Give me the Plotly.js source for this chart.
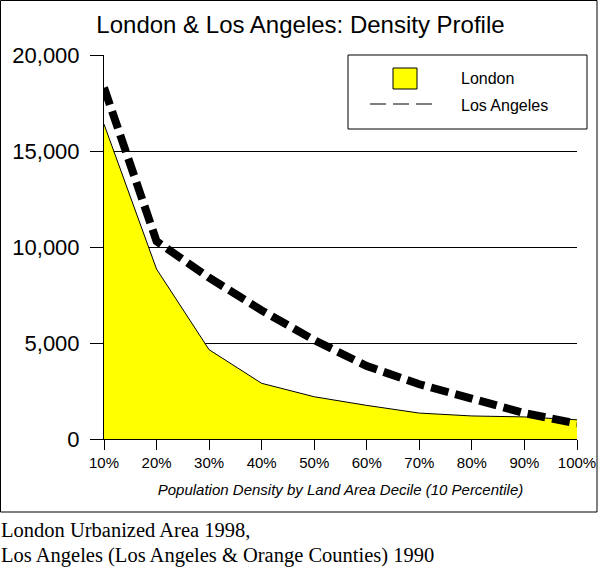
<!DOCTYPE html>
<html>
<head>
<meta charset="utf-8">
<script src="https://cdn.plot.ly/plotly-3.0.1.min.js"></script>
<style>html,body{margin:0;padding:0;background:#fff;}#chart{width:601px;height:568px;}</style>
</head>
<body>
<div id="chart"></div>
<script>
// Population density deciles (10% .. 100% of land area)
var deciles = [10, 20, 30, 40, 50, 60, 70, 80, 90, 100];
var decileLabels = ['10%', '20%', '30%', '40%', '50%', '60%', '70%', '80%', '90%', '100%'];
var londonDensity = [16400, 8850, 4650, 2900, 2200, 1750, 1350, 1200, 1150, 1000];
var laDensity = [18300, 10300, 8400, 6700, 5150, 3800, 2850, 2050, 1350, 800];
var seriesNames = ['London', 'Los Angeles'];
var chartTitle = 'London & Los Angeles: Density Profile';
var xAxisTitle = 'Population Density by Land Area Decile (10 Percentile)';
var captionLines = ['London Urbanized Area 1998,', 'Los Angeles (Los Angeles &amp; Orange Counties) 1990'];

var SANS = 'Liberation Sans, Arial, sans-serif';
var SERIF = 'Liberation Serif, Times New Roman, serif';

// plot area geometry in pixels (for paper-coordinate helpers)
var PL = 104, PW = 473, PB = 439, PH = 384;
function px(x) { return (x - PL) / PW; }
function py(y) { return (PB - y) / PH; }

var traces = [
  {
    x: deciles, y: londonDensity, name: seriesNames[0], type: 'scatter', mode: 'lines',
    fill: 'tozeroy', fillcolor: '#FFFF00', line: {color: '#000', width: 1},
    hoverinfo: 'x+y'
  },
  {
    x: deciles, y: laDensity, name: seriesNames[1], type: 'scatter', mode: 'lines',
    line: {color: '#000', width: 8, dash: '18px,7px'},
    hoverinfo: 'x+y'
  }
];

var layout = {
  width: 601, height: 568,
  paper_bgcolor: '#fff', plot_bgcolor: '#fff',
  margin: {l: 104, r: 24, t: 55, b: 129, pad: 0},
  font: {family: SANS, color: '#000'},
  separators: '.,',
  showlegend: false,
  title: {
    text: chartTitle, font: {family: SANS, size: 24, color: '#000'},
    xref: 'container', x: 0.5, xanchor: 'center',
    yref: 'container', y: 1 - 25 / 568, yanchor: 'middle'
  },
  xaxis: {
    range: [10, 100], tickmode: 'array', tickvals: deciles, ticktext: decileLabels,
    showgrid: false, zeroline: false, showline: true, linecolor: '#000', linewidth: 1,
    ticks: 'outside', ticklen: 10, tickcolor: '#000', tickwidth: 1,
    tickfont: {family: SANS, size: 15, color: '#000'},
    title: {text: '<i>' + xAxisTitle + '</i>', font: {family: SANS, size: 15, color: '#000'}, standoff: 14}
  },
  yaxis: {
    range: [0, 20000], dtick: 5000, tick0: 0, tickformat: ',d',
    showgrid: true, gridcolor: '#000', gridwidth: 1,
    zeroline: false, showline: true, linecolor: '#000', linewidth: 1,
    ticks: 'outside', ticklen: 13, tickcolor: '#000', tickwidth: 1,
    ticklabelstandoff: 6,
    tickfont: {family: SANS, size: 22, color: '#000'}
  },
  shapes: [
    // outer chart frame
    {type: 'rect', xref: 'paper', yref: 'paper',
     x0: px(0.5), x1: px(597), y0: py(512), y1: py(0.5),
     line: {color: '#000', width: 1}, fillcolor: 'rgba(0,0,0,0)', layer: 'below'},
    // legend box
    {type: 'rect', xref: 'paper', yref: 'paper',
     x0: px(348), x1: px(587), y0: py(129), y1: py(55),
     line: {color: '#000', width: 1}, fillcolor: '#fff', layer: 'above'},
    // legend key: London (yellow square)
    {type: 'rect', xref: 'paper', yref: 'paper',
     x0: px(393), x1: px(417), y0: py(89), y1: py(68),
     line: {color: '#000', width: 1}, fillcolor: '#FFFF00', layer: 'above'},
    // legend key: Los Angeles (dashed line)
    {type: 'line', xref: 'paper', yref: 'paper',
     x0: px(370), x1: px(433), y0: py(104), y1: py(104),
     line: {color: '#000', width: 1, dash: '16px,7px'}, layer: 'above'}
  ],
  annotations: [
    {text: seriesNames[0], xref: 'paper', yref: 'paper', x: px(459), y: py(78),
     xanchor: 'left', yanchor: 'middle', showarrow: false, font: {family: SANS, size: 16, color: '#000'}},
    {text: seriesNames[1], xref: 'paper', yref: 'paper', x: px(459), y: py(105),
     xanchor: 'left', yanchor: 'middle', showarrow: false, font: {family: SANS, size: 16, color: '#000'}},
    {text: captionLines[0], xref: 'paper', yref: 'paper', x: px(-1), y: py(530),
     xanchor: 'left', yanchor: 'middle', showarrow: false, font: {family: SERIF, size: 20.5, color: '#000'}},
    {text: captionLines[1], xref: 'paper', yref: 'paper', x: px(-1), y: py(555),
     xanchor: 'left', yanchor: 'middle', showarrow: false, font: {family: SERIF, size: 20.5, color: '#000'}}
  ]
};

Plotly.newPlot('chart', traces, layout, {displayModeBar: false, staticPlot: true});
</script>
</body>
</html>
